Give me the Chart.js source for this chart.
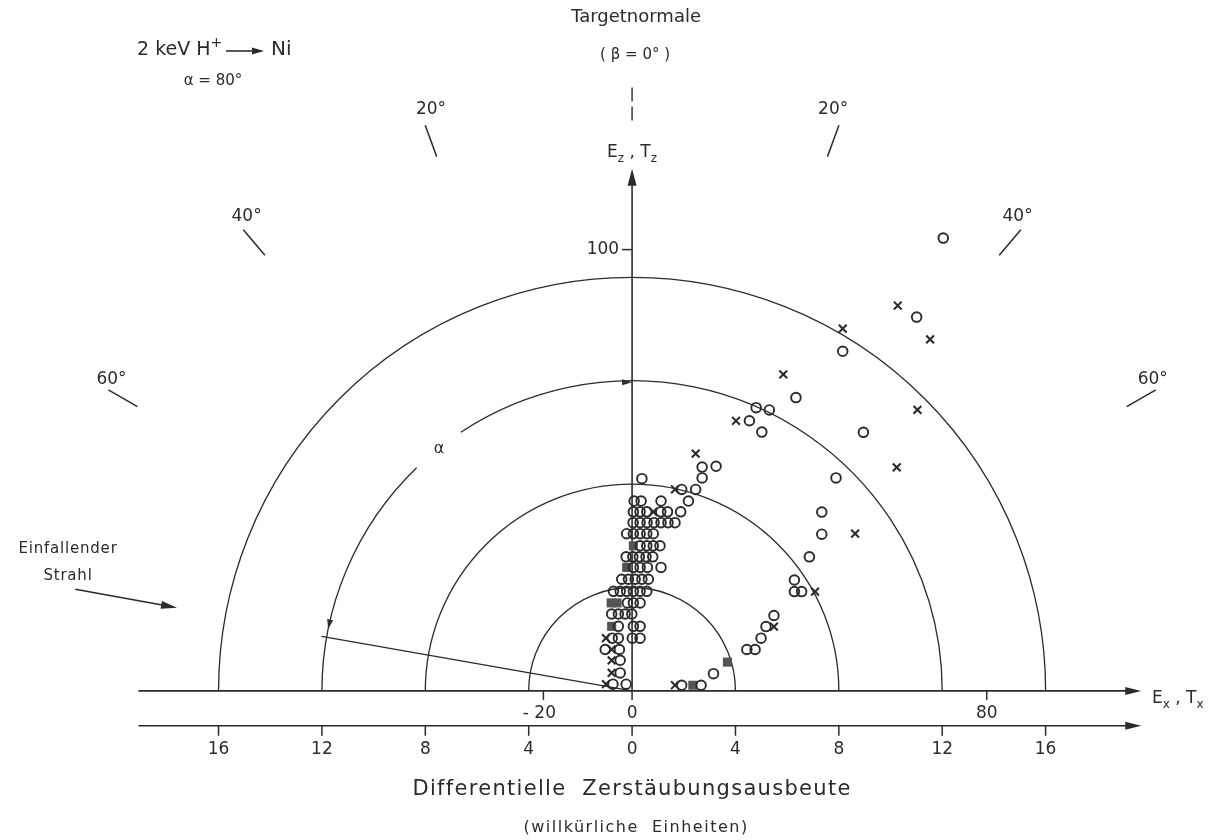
<!DOCTYPE html>
<html>
<head>
<meta charset="utf-8">
<title>Zerstäubungsausbeute 2 keV H+ auf Ni</title>
<script src="https://cdn.jsdelivr.net/npm/chart.js@4.4.1/dist/chart.umd.min.js"></script>
<style>
  body { margin: 0; background: #fff; }
  canvas { display: block; }
</style>
</head>
<body>
<canvas id="polar-chart" width="1219" height="840"></canvas>
<script>
// points as [x, y] in units of the yield axis (Differentielle Zerstäubungsausbeute)
const circlePoints = [
    [0.38, 8.25], [2.71, 8.28], [2.71, 8.70], [3.25, 8.73],
    [1.92, 7.83], [2.46, 7.83],
    [0.08, 7.38], [0.35, 7.38], [1.12, 7.38], [2.18, 7.38],
    [0.05, 6.96], [0.31, 6.96], [0.57, 6.96], [1.11, 6.96], [1.37, 6.96], [1.88, 6.96],
    [0.04, 6.54], [0.31, 6.54], [0.58, 6.54], [0.85, 6.54], [1.12, 6.54], [1.39, 6.54], [1.66, 6.54],
    [-0.21, 6.11], [0.05, 6.11], [0.31, 6.11], [0.57, 6.11], [0.82, 6.11],
    [0.31, 5.64], [0.57, 5.64], [0.82, 5.64], [1.08, 5.64],
    [-0.23, 5.21], [0.03, 5.21], [0.28, 5.21], [0.54, 5.21], [0.80, 5.21],
    [0.05, 4.80], [0.31, 4.80], [0.59, 4.80], [1.12, 4.80],
    [-0.40, 4.34], [-0.14, 4.34], [0.12, 4.34], [0.38, 4.34], [0.63, 4.34],
    [-0.72, 3.87], [-0.46, 3.87], [-0.21, 3.87], [0.05, 3.87], [0.31, 3.87], [0.57, 3.87],
    [-0.18, 3.42], [0.05, 3.42], [0.31, 3.42],
    [-0.79, 2.99], [-0.53, 2.99], [-0.27, 2.99], [-0.01, 2.99],
    [-0.53, 2.51], [0.05, 2.51], [0.31, 2.51],
    [-0.77, 2.05], [-0.53, 2.05], [0.01, 2.05], [0.31, 2.05],
    [-1.04, 1.61], [-0.49, 1.61],
    [-0.46, 1.19], [-0.46, 0.70],
    [-0.74, 0.26], [-0.23, 0.26],
    [1.92, 0.22], [2.67, 0.22], [3.15, 0.67],
    [4.44, 1.61], [4.76, 1.61], [4.99, 2.05], [5.18, 2.50], [5.49, 2.93],
    [6.28, 3.86], [6.56, 3.86], [6.28, 4.31], [6.86, 5.21], [7.34, 6.09], [7.34, 6.95],
    [7.89, 8.28], [8.95, 10.05],
    [5.02, 10.06], [4.54, 10.50], [4.80, 11.01], [5.31, 10.92], [6.34, 11.40],
    [8.15, 13.20], [11.01, 14.53], [12.04, 17.60]
]

const crossPoints = [
    [2.46, 9.22], [1.66, 7.83], [0.82, 6.96],
    [-1.01, 2.05], [-0.79, 1.61], [-0.79, 1.19], [-0.79, 0.70], [-1.01, 0.26],
    [1.66, 0.22], [5.49, 2.50], [7.08, 3.86], [8.63, 6.11],
    [10.24, 8.69], [11.04, 10.92], [4.02, 10.50], [5.85, 12.30],
    [8.15, 14.08], [10.28, 14.98], [11.53, 13.66]
]

const squarePoints = [
    [0.05, 5.64], [-0.21, 4.80], [-0.81, 3.42], [-0.58, 3.42],
    [-0.79, 2.51], [2.35, 0.22], [3.69, 1.12]
]

const yieldTicks = [-16, -12, -8, -4, 0, 4, 8, 12, 16]
const ringRadii = [4, 8, 12, 16]
const exTicks = [-20, 0, 80]
const ezTicks = [100]
const angleMarks = [-60, -40, -20, 20, 40, 60]
const energyPerUnit = 5.83   // E/T units per yield unit
const incidenceAngle = 80

const ink = '#2b2b2b'
const font = '"DejaVu Sans", sans-serif'

let toPoints = (arr) => arr.map(p => ({ x: p[0], y: p[1] }))

// polar position: r in yield units, deg measured from the target normal, positive to the right
function polarPx (chart, r, deg) {
    const a = deg * Math.PI / 180
    return {
        x: chart.scales.x.getPixelForValue(r * Math.sin(a)),
        y: chart.scales.y.getPixelForValue(r * Math.cos(a))
    }
}

function arrowHead (ctx, tx, ty, dx, dy, len, half) {
    const n = Math.hypot(dx, dy)
    dx /= n; dy /= n
    const bx = tx - dx * len, by = ty - dy * len
    ctx.beginPath()
    ctx.moveTo(tx, ty)
    ctx.lineTo(bx - dy * half, by + dx * half)
    ctx.lineTo(bx + dy * half, by - dx * half)
    ctx.closePath()
    ctx.fill()
}

// text with subscript / superscript pieces: [text, 'sub' | 'sup' | '']
function richText (ctx, parts, x, y, size, align) {
    const small = Math.round(size * 0.72)
    let widths = parts.map(p => {
        ctx.font = (p[1] ? small : size) + 'px ' + font
        return ctx.measureText(p[0]).width
    })
    let total = widths.reduce((a, b) => a + b, 0)
    let cur = align === 'center' ? x - total / 2 : x
    ctx.textAlign = 'left'
    parts.forEach((p, i) => {
        ctx.font = (p[1] ? small : size) + 'px ' + font
        let dy = p[1] === 'sub' ? size * 0.35 : p[1] === 'sup' ? -size * 0.35 : 0
        ctx.fillText(p[0], cur, y + dy)
        cur += widths[i]
    })
}

const polarFrame = {
    id: 'polarFrame',
    beforeDraw (chart) {
        const ctx = chart.ctx
        ctx.save()
        ctx.fillStyle = '#fff'
        ctx.fillRect(0, 0, chart.width, chart.height)
        ctx.restore()
    },
    beforeDatasetsDraw (chart) {
        const ctx = chart.ctx
        const xs = chart.scales.x, ys = chart.scales.y
        const cx = xs.getPixelForValue(0), cy = ys.getPixelForValue(0)
        const unit = xs.getPixelForValue(1) - cx

        ctx.save()
        ctx.strokeStyle = ink
        ctx.fillStyle = ink
        ctx.lineWidth = 1.3

        // half circles of equal yield, the 12 ring is broken for the alpha label
        ringRadii.forEach(r => {
            ctx.beginPath()
            if (r === 12) {
                const phi = d => -Math.PI / 2 + d * Math.PI / 180
                ctx.arc(cx, cy, r * unit, -Math.PI, phi(-44))
                ctx.stroke()
                ctx.beginPath()
                ctx.arc(cx, cy, r * unit, phi(-33.5), 0)
            } else {
                ctx.arc(cx, cy, r * unit, -Math.PI, 0)
            }
            ctx.stroke()
        })

        // arrow heads marking the angle alpha
        let top = polarPx(chart, 12, 0)
        arrowHead(ctx, top.x, top.y, 1, 0, 10, 3)
        const aEnd = -(incidenceAngle - 1.5)
        let side = polarPx(chart, 12, aEnd)
        const ar = aEnd * Math.PI / 180
        arrowHead(ctx, side.x, side.y, -Math.cos(ar), -Math.sin(ar), 10, 3)

        // incident beam line
        let beamEnd = polarPx(chart, 12.2, -incidenceAngle)
        ctx.beginPath()
        ctx.moveTo(cx, cy)
        ctx.lineTo(beamEnd.x, beamEnd.y)
        ctx.stroke()

        ctx.lineWidth = 1.6
        // E_x axis
        let xLeft = xs.getPixelForValue(-19.1), xRight = xs.getPixelForValue(19.7)
        ctx.beginPath()
        ctx.moveTo(xLeft, cy)
        ctx.lineTo(xRight - 6, cy)
        ctx.stroke()
        arrowHead(ctx, xRight, cy, 1, 0, 16, 4)

        // yield axis below
        let yLow = ys.getPixelForValue(-1.354)
        ctx.beginPath()
        ctx.moveTo(xLeft, yLow)
        ctx.lineTo(xRight - 6, yLow)
        ctx.stroke()
        arrowHead(ctx, xRight, yLow, 1, 0, 16, 4)

        // E_z axis
        let yTop = ys.getPixelForValue(20.3)
        ctx.beginPath()
        ctx.moveTo(cx, cy)
        ctx.lineTo(cx, yTop + 8)
        ctx.stroke()
        arrowHead(ctx, cx, yTop, 0, -1, 17, 4.5)

        // target normal, dashed
        ctx.lineWidth = 1.4
        ctx.setLineDash([14, 5])
        ctx.beginPath()
        ctx.moveTo(cx, ys.getPixelForValue(23.45))
        ctx.lineTo(cx, ys.getPixelForValue(22.1))
        ctx.stroke()
        ctx.setLineDash([])

        // tick marks
        ctx.lineWidth = 1.5
        yieldTicks.forEach(t => {
            let x = xs.getPixelForValue(t)
            ctx.beginPath()
            ctx.moveTo(x, yLow)
            ctx.lineTo(x, yLow + 10)
            ctx.stroke()
        })
        exTicks.forEach(t => {
            let x = xs.getPixelForValue(t / energyPerUnit)
            ctx.beginPath()
            ctx.moveTo(x, cy)
            ctx.lineTo(x, cy + 9)
            ctx.stroke()
        })
        ezTicks.forEach(t => {
            let y = ys.getPixelForValue(t / energyPerUnit)
            ctx.beginPath()
            ctx.moveTo(cx - 10, y)
            ctx.lineTo(cx, y)
            ctx.stroke()
        })

        // emission angle marks
        angleMarks.forEach(a => {
            let p1 = polarPx(chart, 22.1, a), p2 = polarPx(chart, 23.4, a)
            ctx.beginPath()
            ctx.moveTo(p1.x, p1.y)
            ctx.lineTo(p2.x, p2.y)
            ctx.stroke()
        })

        // incoming beam arrow
        let b1 = polarPx(chart, 21.9, -79.6), b2 = polarPx(chart, 17.9, -79.6)
        ctx.lineWidth = 1.6
        ctx.beginPath()
        ctx.moveTo(b1.x, b1.y)
        ctx.lineTo(b2.x - 8, b2.y - 1.5)
        ctx.stroke()
        arrowHead(ctx, b2.x, b2.y, b2.x - b1.x, b2.y - b1.y, 16, 4)

        ctx.restore()
    },
    afterDatasetsDraw (chart) {
        const ctx = chart.ctx
        const xs = chart.scales.x, ys = chart.scales.y
        const cx = xs.getPixelForValue(0), cy = ys.getPixelForValue(0)
        const yLow = ys.getPixelForValue(-1.354)

        ctx.save()
        ctx.fillStyle = ink
        ctx.strokeStyle = ink
        ctx.textBaseline = 'middle'
        ctx.textAlign = 'center'

        ctx.font = '17px ' + font
        yieldTicks.forEach(t => {
            ctx.fillText(String(Math.abs(t)), xs.getPixelForValue(t), yLow + 24)
        })
        exTicks.forEach(t => {
            let label = t < 0 ? '- ' + Math.abs(t) : String(t)
            ctx.fillText(label, xs.getPixelForValue(t / energyPerUnit) - (t < 0 ? 4 : 0), cy + 23)
        })
        ctx.textAlign = 'right'
        ezTicks.forEach(t => {
            ctx.fillText(String(t), cx - 13, ys.getPixelForValue(t / energyPerUnit))
        })

        // angle labels sit slightly inside of their marks
        ctx.textAlign = 'center'
        angleMarks.forEach(a => {
            let r = 24.1 - Math.abs(a) * 0.01
            let p = polarPx(chart, r, a - Math.sign(a) * 1)
            ctx.fillText(Math.abs(a) + '°', p.x, p.y)
        })

        // axis names
        richText(ctx, [['E', ''], ['z', 'sub'], [' , ', ''], ['T', ''], ['z', 'sub']], cx, 153, 17, 'center')
        richText(ctx, [['E', ''], ['x', 'sub'], [' , ', ''], ['T', ''], ['x', 'sub']], 1152, 699, 17, 'left')

        ctx.textAlign = 'center'
        ctx.font = '18px ' + font
        ctx.fillText('Targetnormale', cx + 4, 17)
        ctx.font = '15px ' + font
        ctx.fillText('( β = 0° )', cx + 3, 55)

        ctx.font = '21px ' + font
        ctx.letterSpacing = '1.3px'
        ctx.fillText('Differentielle  Zerstäubungsausbeute', cx, 790)
        ctx.font = '16px ' + font
        ctx.letterSpacing = '1.5px'
        ctx.fillText('(willkürliche  Einheiten)', cx + 4, 828)

        ctx.font = '15px ' + font
        ctx.letterSpacing = '0.8px'
        ctx.fillText('Einfallender', 68, 549)
        ctx.fillText('Strahl', 68, 576)
        ctx.letterSpacing = '0px'

        // reaction in the upper left corner
        richText(ctx, [['2 keV H', ''], ['+', 'sup']], 137, 50, 19, 'left')
        ctx.lineWidth = 1.6
        ctx.beginPath()
        ctx.moveTo(226, 51)
        ctx.lineTo(258, 51)
        ctx.stroke()
        arrowHead(ctx, 264, 51, 1, 0, 12, 3.5)
        ctx.textAlign = 'left'
        ctx.font = '20px ' + font
        ctx.fillText('Ni', 271, 50)
        ctx.textAlign = 'center'
        ctx.font = '15px ' + font
        ctx.fillText('α = ' + incidenceAngle + '°', 213, 81)

        // alpha inside the broken ring
        let al = polarPx(chart, 12, -38.5)
        ctx.font = '16px ' + font
        ctx.fillText('α', al.x, al.y)

        ctx.restore()
    }
}

window.addEventListener('load', (event) => {
    const canvas = document.getElementById('polar-chart')
    new Chart(canvas.getContext('2d'), {
        type: 'scatter',
        data: {
            datasets: [{
                label: 'o',
                data: toPoints(circlePoints),
                pointStyle: 'circle',
                pointRadius: 4.8,
                borderWidth: 1.9,
                borderColor: ink,
                backgroundColor: 'rgba(0,0,0,0)'
            }, {
                label: 'x',
                data: toPoints(crossPoints),
                pointStyle: 'crossRot',
                pointRadius: 5.5,
                borderWidth: 2.1,
                borderColor: ink,
                backgroundColor: ink
            }, {
                label: 'gefüllt',
                data: toPoints(squarePoints),
                pointStyle: 'rect',
                pointRadius: 6.4,
                borderWidth: 0,
                borderColor: '#555',
                backgroundColor: '#555'
            }]
        },
        options: {
            responsive: false,
            animation: false,
            events: [],
            clip: false,
            layout: { padding: { left: 141, right: 70, top: 22, bottom: 4 } },
            scales: {
                x: { type: 'linear', min: -19, max: 20, display: false },
                y: { type: 'linear', min: -5.5, max: 26, display: false }
            },
            plugins: {
                legend: { display: false },
                tooltip: { enabled: false }
            }
        },
        plugins: [polarFrame]
    })
})
</script>
</body>
</html>
